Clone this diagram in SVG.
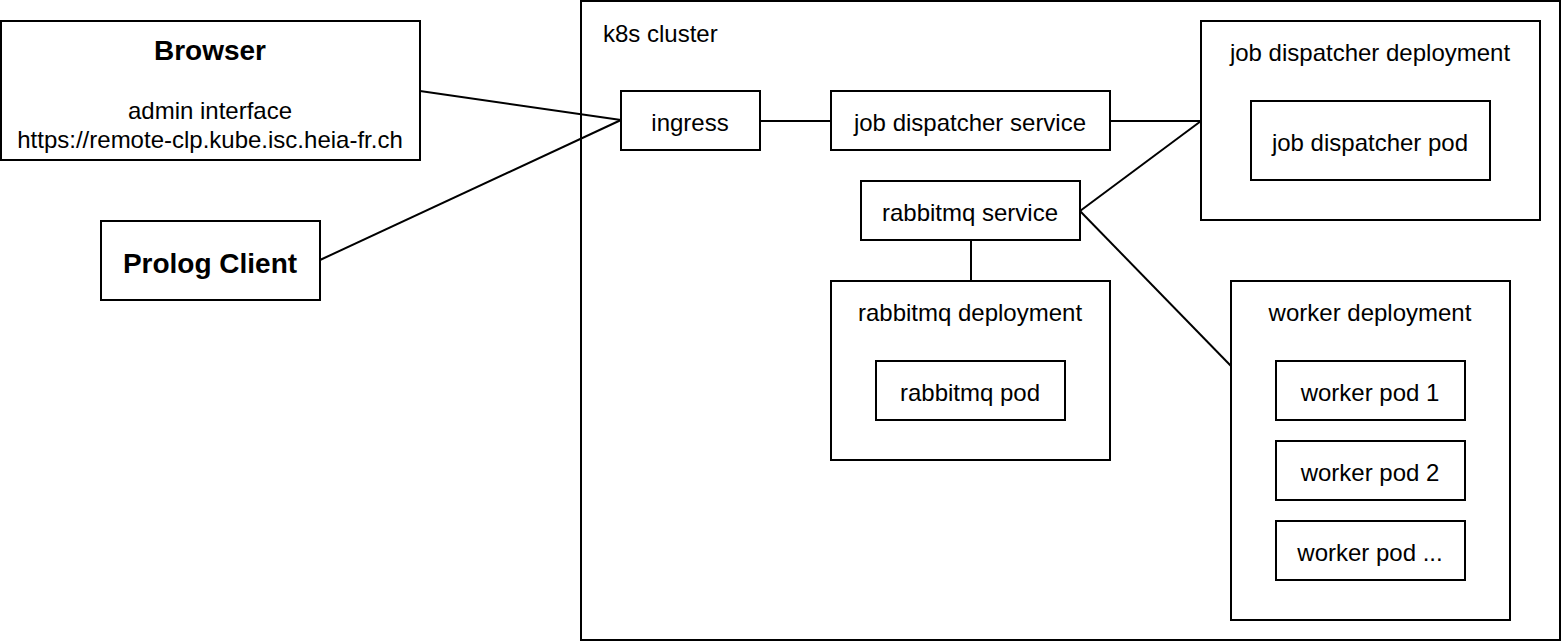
<svg xmlns="http://www.w3.org/2000/svg" width="1562" height="642" viewBox="0 0 1562 642">
<style>
rect{fill:#fff;stroke:#000;stroke-width:2}
text{font-family:"Liberation Sans",Arial,sans-serif;font-size:24px;fill:#000;text-anchor:middle;dominant-baseline:central}
.b{font-weight:bold;font-size:28px}
.l{text-anchor:start}
#connectors line{stroke:#000;stroke-width:2}
</style>
<rect x="0" y="0" width="1562" height="642" style="stroke:none"/>
<g id="cluster"><rect x="581" y="1" width="979" height="639"/><text class="l" x="603" y="33">k8s cluster</text></g>
<g id="browser"><rect x="1" y="21" width="419" height="139"/><text class="b" x="210" y="50">Browser</text><text x="210" y="110">admin interface</text><text x="210" y="139">https://remote-clp.kube.isc.heia-fr.ch</text></g>
<g id="prolog"><rect x="101" y="221" width="219" height="79"/><text class="b" x="210" y="263">Prolog Client</text></g>
<g id="connectors">
<line x1="420" y1="91" x2="621" y2="120"/>
<line x1="320" y1="260" x2="621" y2="120"/>
<line x1="760" y1="121" x2="831" y2="121"/>
<line x1="1110" y1="121" x2="1201" y2="121"/>
<line x1="1080" y1="211" x2="1201" y2="121"/>
<line x1="1080" y1="211" x2="1231" y2="366"/>
<line x1="971" y1="240" x2="971" y2="281"/>
</g>
<g id="ingress"><rect x="621" y="91" width="139" height="59"/><text x="690" y="122">ingress</text></g>
<g id="jds"><rect x="831" y="91" width="279" height="59"/><text x="970" y="122">job dispatcher service</text></g>
<g id="jdd"><rect x="1201" y="21" width="339" height="199"/><text x="1370" y="52">job dispatcher deployment</text></g>
<g id="jdp"><rect x="1251" y="101" width="239" height="79"/><text x="1370" y="142">job dispatcher pod</text></g>
<g id="rms"><rect x="861" y="181" width="219" height="59"/><text x="970" y="212">rabbitmq service</text></g>
<g id="rmd"><rect x="831" y="281" width="279" height="179"/><text x="970" y="312">rabbitmq deployment</text></g>
<g id="rmp"><rect x="876" y="361" width="189" height="59"/><text x="970" y="392">rabbitmq pod</text></g>
<g id="wd"><rect x="1231" y="281" width="279" height="339"/><text x="1370" y="312">worker deployment</text></g>
<g id="wp1"><rect x="1276" y="361" width="189" height="59"/><text x="1370" y="392">worker pod 1</text></g>
<g id="wp2"><rect x="1276" y="441" width="189" height="59"/><text x="1370" y="472">worker pod 2</text></g>
<g id="wp3"><rect x="1276" y="521" width="189" height="59"/><text x="1370" y="552">worker pod ...</text></g>
</svg>
